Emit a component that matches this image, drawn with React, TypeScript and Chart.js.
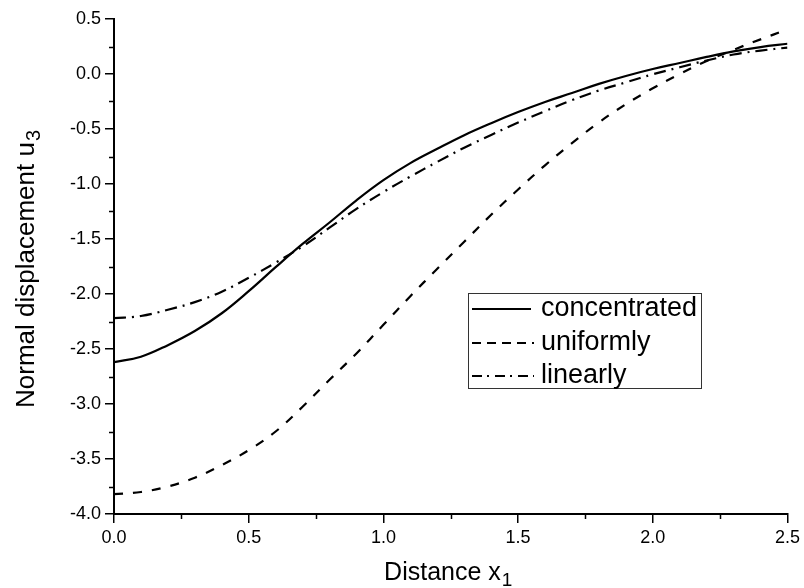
import React, { useEffect, useRef } from "react";
import { Chart, registerables } from "chart.js";

Chart.register(...registerables);

const xValues = [0, 0.1, 0.2, 0.3, 0.4, 0.5, 0.6, 0.7, 0.8, 0.9, 1.0, 1.1, 1.2, 1.3, 1.4, 1.5, 1.6, 1.7, 1.8, 1.9, 2.0, 2.1, 2.2, 2.3, 2.4, 2.5];

const concentrated = [-2.62, -2.57, -2.465, -2.337, -2.175, -1.974, -1.756, -1.545, -1.35, -1.148, -0.965, -0.81, -0.68, -0.556, -0.447, -0.346, -0.254, -0.173, -0.09, -0.018, 0.045, 0.1, 0.155, 0.205, 0.245, 0.275];

const uniformly = [-3.82, -3.8, -3.75, -3.67, -3.555, -3.42, -3.25, -3.025, -2.78, -2.54, -2.28, -2.02, -1.77, -1.525, -1.28, -1.05, -0.83, -0.628, -0.44, -0.275, -0.13, 0.0, 0.118, 0.22, 0.315, 0.405];

const linearly = [-2.22, -2.2, -2.143, -2.074, -1.979, -1.853, -1.715, -1.567, -1.397, -1.226, -1.073, -0.932, -0.799, -0.67, -0.554, -0.442, -0.338, -0.238, -0.15, -0.076, -0.003, 0.061, 0.123, 0.177, 0.213, 0.24];

const seriesNames = ["concentrated", "uniformly", "linearly"];
const seriesDash = [[], [9, 10], [12, 6, 2, 6]];
const legendDash = [[], [9, 6], [10, 5, 2, 6]];

const xTitle = "Distance x";
const xTitleSub = "1";
const yTitle = "Normal displacement u";
const yTitleSub = "3";

const FONT = "'Liberation Sans', Arial, sans-serif";

const isMajor = (v: number) => Math.abs(v * 2 - Math.round(v * 2)) < 1e-6;

export default function App() {
  const canvasRef = useRef<HTMLCanvasElement | null>(null);

  useEffect(() => {
    const canvas = canvasRef.current;
    if (!canvas) return;
    const all = [concentrated, uniformly, linearly];

    const decorPlugin = {
      id: "decor",
      afterDraw(chart: any) {
        const ctx = chart.ctx as CanvasRenderingContext2D;
        const xs = chart.scales.x;
        const ys = chart.scales.y;
        const area = chart.chartArea;
        ctx.save();
        // minor ticks
        ctx.strokeStyle = "#000";
        ctx.lineWidth = 1.5;
        ctx.beginPath();
        for (let v = 0.25; v < 2.5; v += 0.5) {
          const px = Math.round(xs.getPixelForValue(v)) + 0.5;
          ctx.moveTo(px, area.bottom);
          ctx.lineTo(px, area.bottom + 5);
        }
        for (let v = -3.75; v < 0.5; v += 0.5) {
          const py = Math.round(ys.getPixelForValue(v)) + 0.5;
          ctx.moveTo(area.left, py);
          ctx.lineTo(area.left - 5, py);
        }
        ctx.stroke();

        // axis titles
        ctx.fillStyle = "#000";
        ctx.textBaseline = "alphabetic";
        const xFont = 25;
        ctx.font = `${xFont}px ${FONT}`;
        const wMain = ctx.measureText(xTitle).width;
        ctx.font = `${Math.round(xFont * 0.75)}px ${FONT}`;
        const wSub = ctx.measureText(xTitleSub).width;
        const cx = (area.left + area.right) / 2 - 3;
        const startX = cx - (wMain + wSub) / 2;
        ctx.font = `${xFont}px ${FONT}`;
        ctx.textAlign = "left";
        ctx.fillText(xTitle, startX, 580);
        ctx.font = `${Math.round(xFont * 0.75)}px ${FONT}`;
        ctx.fillText(xTitleSub, startX + wMain + 1, 586);

        const yFont = 26;
        ctx.save();
        ctx.translate(34, 408);
        ctx.rotate(-Math.PI / 2);
        ctx.font = `${yFont}px ${FONT}`;
        ctx.fillText(yTitle, 0, 0);
        const wy = ctx.measureText(yTitle).width;
        ctx.font = `${Math.round(yFont * 0.75)}px ${FONT}`;
        ctx.fillText(yTitleSub, wy + 1, 6);
        ctx.restore();

        // legend
        const bx = 468, by = 293, bw = 233, bh = 95;
        ctx.strokeStyle = "#333";
        ctx.lineWidth = 1;
        ctx.strokeRect(bx + 0.5, by + 0.5, bw, bh);
        const rows = [316, 350, 383];
        ctx.font = `27px ${FONT}`;
        ctx.textAlign = "left";
        ctx.textBaseline = "alphabetic";
        for (let i = 0; i < seriesNames.length; i++) {
          const ly = rows[i] - 7;
          ctx.strokeStyle = "#000";
          ctx.lineWidth = 2;
          ctx.setLineDash(legendDash[i]);
          ctx.beginPath();
          ctx.moveTo(472, ly);
          ctx.lineTo(i === 0 ? 531 : 534, ly);
          ctx.stroke();
          ctx.setLineDash([]);
          ctx.fillText(seriesNames[i], 541, rows[i]);
        }
        ctx.restore();
      },
    };

    const chart = new Chart(canvas, {
      type: "line",
      data: {
        datasets: all.map((vals, i) => ({
          label: seriesNames[i],
          data: xValues.map((x, j) => ({ x, y: vals[j] })),
          borderColor: "#000",
          borderWidth: 2.2,
          borderDash: seriesDash[i],
          pointRadius: 0,
          fill: false,
          tension: 0.4,
        })),
      },
      options: {
        animation: false,
        responsive: false,
        events: [],
        layout: { padding: { top: 19, right: 16, left: 0, bottom: 0 } },
        plugins: {
          legend: { display: false },
          tooltip: { enabled: false },
          title: { display: false },
        },
        scales: {
          x: {
            type: "linear",
            min: 0,
            max: 2.5,
            afterFit: (s: any) => {
              s.height = 74;
            },
            ticks: {
              stepSize: 0.25,
              autoSkip: false,
              maxRotation: 0,
              padding: 4,
              color: "#000",
              font: { family: FONT, size: 18 },
              callback: (v: any) => (isMajor(Number(v)) ? Number(v).toFixed(1) : ""),
            },
            grid: {
              drawOnChartArea: false,
              drawTicks: true,
              tickLength: 9,
              lineWidth: 1.5,
              color: (c: any) => (c.tick && isMajor(c.tick.value) ? "#000" : "rgba(0,0,0,0)"),
            },
            border: { display: true, color: "#000", width: 2 },
          },
          y: {
            type: "linear",
            min: -4,
            max: 0.5,
            afterFit: (s: any) => {
              s.width = 114;
            },
            ticks: {
              stepSize: 0.25,
              autoSkip: false,
              padding: 4,
              color: "#000",
              font: { family: FONT, size: 18 },
              callback: (v: any) => (isMajor(Number(v)) ? Number(v).toFixed(1) : ""),
            },
            grid: {
              drawOnChartArea: false,
              drawTicks: true,
              tickLength: 9,
              lineWidth: 1.5,
              color: (c: any) => (c.tick && isMajor(c.tick.value) ? "#000" : "rgba(0,0,0,0)"),
            },
            border: { display: true, color: "#000", width: 2 },
          },
        },
      },
      plugins: [decorPlugin],
    });

    return () => {
      chart.destroy();
    };
  }, []);

  return (
    <div style={{ position: "fixed", left: 0, top: 0, width: 804, height: 588, background: "#fff" }}>
      <canvas ref={canvasRef} width={804} height={588} style={{ display: "block" }} />
    </div>
  );
}
